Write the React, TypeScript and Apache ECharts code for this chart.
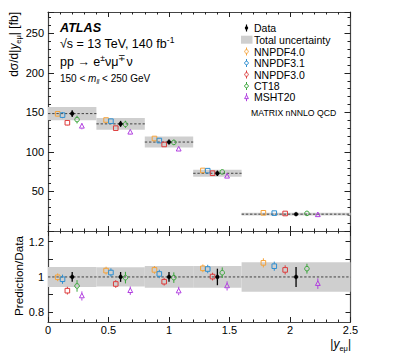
import React, { useEffect, useRef } from 'react';
import * as echarts from 'echarts';

// ---------- data ----------
const binLow = [0, 0.4, 0.8, 1.2, 1.6];
const binHigh = [0.4, 0.8, 1.2, 1.6, 2.5];
const dataX = [0.2, 0.6, 1.0, 1.4, 2.05];
const dataXsec = [148.5, 135.5, 112.5, 73, 21.3];
const dataStatRel = [0.028, 0.028, 0.028, 0.047, 0.057];
const totalUncRel = [0.057, 0.055, 0.062, 0.062, 0.084];

const predNames = ['NNPDF4.0', 'NNPDF3.1', 'NNPDF3.0', 'CT18', 'MSHT20'];
const predColors = ['#f5a33a', '#2f8fd1', '#dd3b3b', '#3aa63a', '#b13fe0'];
const predShapes = ['square', 'square', 'square', 'circle', 'triangle'];

const nnpdf40X = [0.08, 0.48, 0.88, 1.28, 1.78];
const nnpdf31X = [0.12, 0.52, 0.92, 1.32, 1.87];
const nnpdf30X = [0.16, 0.56, 0.96, 1.36, 1.96];
const ct18X = [0.24, 0.64, 1.04, 1.44, 2.14];
const msht20X = [0.28, 0.68, 1.08, 1.48, 2.23];

const nnpdf40Ratio = [0.998, 1.036, 1.04, 1.049, 1.08];
const nnpdf31Ratio = [0.987, 1.025, 1.017, 1.045, 1.061];
const nnpdf30Ratio = [0.922, 0.96, 0.973, 1.002, 1.04];
const ct18Ratio = [0.949, 0.996, 0.996, 1.024, 1.047];
const msht20Ratio = [0.892, 0.922, 0.92, 0.949, 0.962];

const nnpdf40Err = [0.022, 0.022, 0.022, 0.022, 0.026];
const nnpdf31Err = [0.026, 0.024, 0.024, 0.024, 0.026];
const nnpdf30Err = [0.022, 0.022, 0.022, 0.022, 0.026];
const ct18Err = [0.033, 0.033, 0.03, 0.03, 0.028];
const msht20Err = [0.026, 0.024, 0.024, 0.026, 0.03];

const predX = [nnpdf40X, nnpdf31X, nnpdf30X, ct18X, msht20X];
const predRatio = [nnpdf40Ratio, nnpdf31Ratio, nnpdf30Ratio, ct18Ratio, msht20Ratio];
const predErr = [nnpdf40Err, nnpdf31Err, nnpdf30Err, ct18Err, msht20Err];

const xTickValues = [0, 0.5, 1, 1.5, 2, 2.5];
const upperYLabels = [50, 100, 150, 200, 250];
const lowerYLabels = [0.8, 1, 1.2];
const lowerYTicks = [0.8, 0.9, 1, 1.1, 1.2];

// ---------- helpers ----------
const FONT = "'Liberation Sans', Arial, Helvetica, sans-serif";

function markerEl(shape: string, cx: number, cy: number, s: number, color: string) {
  const style = { fill: 'none', stroke: color, lineWidth: 1 };
  if (shape === 'square') {
    return { type: 'rect', shape: { x: cx - s, y: cy - s, width: 2 * s, height: 2 * s }, style };
  }
  if (shape === 'circle') {
    return { type: 'circle', shape: { cx, cy, r: s }, style };
  }
  return {
    type: 'polygon',
    shape: { points: [[cx, cy - s * 1.2], [cx - s * 1.05, cy + s * 0.8], [cx + s * 1.05, cy + s * 0.8]] },
    style,
  };
}

function predictionSeries(k: number, upper: boolean) {
  const color = predColors[k];
  const shape = predShapes[k];
  const data = predX[k].map((x, i) => {
    const scale = upper ? dataXsec[i] : 1;
    const v = predRatio[k][i] * scale;
    const e = predErr[k][i] * scale;
    return [x, v, v - e, v + e];
  });
  return {
    type: 'custom',
    name: predNames[k],
    xAxisIndex: upper ? 0 : 2,
    yAxisIndex: upper ? 0 : 2,
    z: 10,
    data,
    renderItem: (params: any, api: any) => {
      const x = api.value(0);
      const p = api.coord([x, api.value(1)]);
      const lo = api.coord([x, api.value(2)]);
      const hi = api.coord([x, api.value(3)]);
      const s = 2.3;
      const children: any[] = [];
      if (hi[1] < p[1] - s) {
        children.push({ type: 'line', shape: { x1: p[0], y1: p[1] - s, x2: p[0], y2: hi[1] }, style: { stroke: color, lineWidth: 1 } });
      }
      if (lo[1] > p[1] + s) {
        children.push({ type: 'line', shape: { x1: p[0], y1: p[1] + s, x2: p[0], y2: lo[1] }, style: { stroke: color, lineWidth: 1 } });
      }
      children.push(markerEl(shape, p[0], p[1], s, color));
      return { type: 'group', children };
    },
  };
}

function dataSeries(upper: boolean) {
  const data = dataX.map((x, i) => {
    const v = upper ? dataXsec[i] : 1;
    const e = dataStatRel[i] * v;
    return [x, v, v - e, v + e];
  });
  return {
    type: 'custom',
    name: 'Data',
    xAxisIndex: upper ? 0 : 2,
    yAxisIndex: upper ? 0 : 2,
    z: 12,
    data,
    renderItem: (params: any, api: any) => {
      const x = api.value(0);
      const p = api.coord([x, api.value(1)]);
      const lo = api.coord([x, api.value(2)]);
      const hi = api.coord([x, api.value(3)]);
      return {
        type: 'group',
        children: [
          { type: 'line', shape: { x1: p[0], y1: hi[1], x2: p[0], y2: lo[1] }, style: { stroke: '#000', lineWidth: 1.3 } },
          { type: 'circle', shape: { cx: p[0], cy: p[1], r: 1.9 }, style: { fill: '#000', stroke: '#000', lineWidth: 0.5 } },
        ],
      };
    },
  };
}

function bandSeries(upper: boolean) {
  const data = binLow.map((lo, i) => {
    const v = upper ? dataXsec[i] : 1;
    return [lo, binHigh[i], v * (1 - totalUncRel[i]), v * (1 + totalUncRel[i])];
  });
  return {
    type: 'custom',
    name: 'Total uncertainty',
    xAxisIndex: upper ? 0 : 2,
    yAxisIndex: upper ? 0 : 2,
    z: 2,
    data,
    renderItem: (params: any, api: any) => {
      const a = api.coord([api.value(0), api.value(3)]);
      const b = api.coord([api.value(1), api.value(2)]);
      return { type: 'rect', shape: { x: a[0], y: a[1], width: b[0] - a[0], height: b[1] - a[1] }, style: { fill: '#cfcfcf' } };
    },
  };
}

function dashSeries(upper: boolean) {
  const data = upper
    ? binLow.map((lo, i) => [lo, binHigh[i], dataXsec[i]])
    : [[binLow[0], binHigh[binHigh.length - 1], 1]];
  return {
    type: 'custom',
    name: upper ? 'central' : 'unity',
    xAxisIndex: upper ? 0 : 2,
    yAxisIndex: upper ? 0 : 2,
    z: 4,
    data,
    renderItem: (params: any, api: any) => {
      const a = api.coord([api.value(0), api.value(2)]);
      const b = api.coord([api.value(1), api.value(2)]);
      return { type: 'line', shape: { x1: a[0], y1: a[1], x2: b[0], y2: b[1] }, style: { stroke: '#333', lineWidth: 0.9, lineDash: [2.4, 1.8] } };
    },
  };
}

const axisLineStyle = { color: '#444', width: 1.2 };

function xAxisDef(grid: number, position: string, labels: boolean) {
  return {
    type: 'value',
    gridIndex: grid,
    position,
    min: 0,
    max: 2.5,
    interval: 0.5,
    axisLine: { show: true, onZero: false, lineStyle: axisLineStyle },
    axisTick: { show: true, inside: true, length: 5, lineStyle: { color: '#222', width: 1 } },
    minorTick: { show: true, splitNumber: 5, length: 2.5, lineStyle: { color: '#222', width: 1 } },
    splitLine: { show: false },
    axisLabel: {
      show: labels,
      margin: 2,
      fontSize: 11,
      color: '#000',
      fontFamily: FONT,
      customValues: xTickValues,
    },
  };
}

function upperYAxis(position: string, labels: boolean) {
  return {
    type: 'value',
    gridIndex: 0,
    position,
    min: 0,
    max: 277,
    interval: 50,
    axisLine: { show: true, onZero: false, lineStyle: axisLineStyle },
    axisTick: { show: true, inside: true, length: 6, lineStyle: { color: '#222', width: 1 } },
    minorTick: { show: true, splitNumber: 5, length: 3, lineStyle: { color: '#222', width: 1 } },
    splitLine: { show: false },
    axisLabel: {
      show: labels,
      margin: 4,
      fontSize: 11,
      color: '#000',
      fontFamily: FONT,
      customValues: upperYLabels,
    },
  };
}

function lowerYAxis(position: string, labels: boolean) {
  return {
    type: 'value',
    gridIndex: 1,
    position,
    min: 0.744,
    max: 1.261,
    axisLine: { show: true, onZero: false, lineStyle: axisLineStyle },
    axisTick: { show: true, inside: true, length: 5, lineStyle: { color: '#222', width: 1 }, customValues: lowerYTicks },
    splitLine: { show: false },
    axisLabel: {
      show: labels,
      margin: 4,
      fontSize: 11,
      color: '#000',
      fontFamily: FONT,
      customValues: lowerYLabels,
    },
  };
}

function legendGraphics() {
  const els: any[] = [];
  const tx = 254;
  const mx = 246.5;
  const rows = [28, 39.7, 51.5, 63, 74.5, 86, 97.2];
  const textStyle = (t: string, y: number) => ({
    type: 'text',
    x: tx,
    y,
    style: { text: t, fontSize: 10.5, fontFamily: FONT, fill: '#000', align: 'left', verticalAlign: 'middle' },
  });
  // Data
  els.push({ type: 'line', shape: { x1: mx, y1: rows[0] - 3.5, x2: mx, y2: rows[0] + 3.5 }, style: { stroke: '#000', lineWidth: 1.2 } });
  els.push({ type: 'circle', shape: { cx: mx, cy: rows[0], r: 1.7 }, style: { fill: '#000' } });
  els.push(textStyle('Data', rows[0]));
  // Total uncertainty
  els.push({ type: 'rect', shape: { x: 241, y: rows[1] - 4, width: 11.5, height: 8 }, style: { fill: '#cfcfcf' } });
  els.push(textStyle('Total uncertainty', rows[1]));
  predNames.forEach((n, k) => {
    const y = rows[2 + k];
    const s = 1.8;
    els.push({ type: 'line', shape: { x1: mx, y1: y - 4, x2: mx, y2: y - s }, style: { stroke: predColors[k], lineWidth: 1 } });
    els.push({ type: 'line', shape: { x1: mx, y1: y + s, x2: mx, y2: y + 4 }, style: { stroke: predColors[k], lineWidth: 1 } });
    els.push(markerEl(k < 3 ? 'circle' : predShapes[k], mx, y, s, predColors[k]));
    els.push(textStyle(n, y));
  });
  els.push({
    type: 'text',
    x: 251,
    y: 113,
    style: { text: 'MATRIX nNNLO QCD', fontSize: 8.7, fontFamily: FONT, fill: '#000', align: 'left', verticalAlign: 'middle' },
  });
  return els;
}

function textGraphics() {
  const els: any[] = [];
  els.push({
    type: 'text', x: 60, y: 28,
    style: { text: 'ATLAS', fontSize: 12.6, fontWeight: 'bold', fontStyle: 'italic', fontFamily: FONT, fill: '#000', verticalAlign: 'middle' },
  });
  els.push({
    type: 'text', x: 60, y: 43.5,
    style: {
      text: '{n|√s = 13 TeV, 140 fb}{sup|-1}',
      fontFamily: FONT, fill: '#000', verticalAlign: 'middle',
      rich: {
        n: { fontSize: 12.5, fontFamily: FONT, lineHeight: 16 },
        sup: { fontSize: 8.5, fontFamily: FONT, lineHeight: 9, verticalAlign: 'top' },
      },
    },
  });
  els.push({
    type: 'text', x: 60, y: 61.5,
    style: {
      text: '{n|pp → e}{sup|±}{n|νμ}{sup|∓}{n|ν}',
      fontFamily: FONT, fill: '#000', verticalAlign: 'middle',
      rich: {
        n: { fontSize: 12.5, fontFamily: FONT, lineHeight: 16 },
        sup: { fontSize: 8.5, fontFamily: FONT, lineHeight: 9, verticalAlign: 'top' },
      },
    },
  });
  els.push({
    type: 'text', x: 60, y: 78.5,
    style: {
      text: '{n|150 < }{i|m}{sub|ll}{n| < 250 GeV}',
      fontFamily: FONT, fill: '#000', verticalAlign: 'middle',
      rich: {
        n: { fontSize: 10, fontFamily: FONT, lineHeight: 13 },
        i: { fontSize: 10, fontFamily: FONT, fontStyle: 'italic', lineHeight: 13 },
        sub: { fontSize: 6.5, fontFamily: FONT, fontStyle: 'italic', lineHeight: 7, verticalAlign: 'bottom' },
      },
    },
  });
  // y-axis title upper (rotated)
  els.push({
    type: 'text', x: 14, y: 12, rotation: Math.PI / 2,
    style: {
      text: '{n|dσ/d|}{i|y}{sub|eμ}{n|| [fb]}',
      fontFamily: FONT, fill: '#000', align: 'right', verticalAlign: 'middle',
      rich: {
        n: { fontSize: 12, fontFamily: FONT, lineHeight: 16 },
        i: { fontSize: 12, fontFamily: FONT, fontStyle: 'italic', lineHeight: 16 },
        sub: { fontSize: 7.5, fontFamily: FONT, lineHeight: 8, verticalAlign: 'bottom' },
      },
    },
  });
  // y-axis title lower
  els.push({
    type: 'text', x: 18.5, y: 276, rotation: Math.PI / 2,
    style: { text: 'Prediction/Data', fontSize: 11.7, fontFamily: FONT, fill: '#000', align: 'center', verticalAlign: 'middle' },
  });
  // x-axis title
  els.push({
    type: 'text', x: 351, y: 344, 
    style: {
      text: '{n||}{i|y}{sub|eμ}{n||}',
      fontFamily: FONT, fill: '#000', align: 'right', verticalAlign: 'middle',
      rich: {
        n: { fontSize: 12, fontFamily: FONT, lineHeight: 16 },
        i: { fontSize: 12, fontFamily: FONT, fontStyle: 'italic', lineHeight: 16 },
        sub: { fontSize: 7.5, fontFamily: FONT, lineHeight: 8, verticalAlign: 'bottom' },
      },
    },
  });
  return els;
}

export default function App() {
  const ref = useRef<HTMLDivElement>(null);
  useEffect(() => {
    if (!ref.current) return;
    const chart = echarts.init(ref.current, null, { renderer: 'svg' });
    const option: any = {
      animation: false,
      backgroundColor: '#fff',
      textStyle: { fontFamily: FONT },
      grid: [
        { left: 48, right: 48.5, top: 12, height: 219 },
        { left: 48, right: 48.5, top: 231, height: 91 },
      ],
      xAxis: [
        xAxisDef(0, 'bottom', false),
        xAxisDef(0, 'top', false),
        xAxisDef(1, 'bottom', true),
        xAxisDef(1, 'top', false),
      ],
      yAxis: [
        upperYAxis('left', true),
        upperYAxis('right', false),
        lowerYAxis('left', true),
        lowerYAxis('right', false),
      ],
      series: [
        bandSeries(true),
        dashSeries(true),
        ...predNames.map((_, k) => predictionSeries(k, true)),
        dataSeries(true),
        bandSeries(false),
        dashSeries(false),
        ...predNames.map((_, k) => predictionSeries(k, false)),
        dataSeries(false),
      ],
      graphic: [...legendGraphics(), ...textGraphics()],
    };
    chart.setOption(option);
    return () => chart.dispose();
  }, []);
  return <div ref={ref} style={{ width: 399, height: 357, position: 'absolute', left: 0, top: 0 }} />;
}
